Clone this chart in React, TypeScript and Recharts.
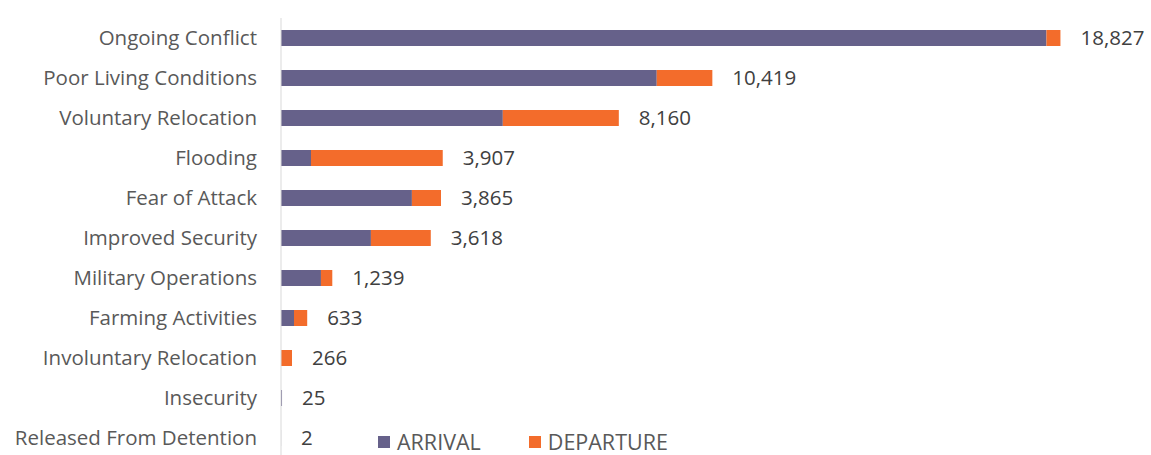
import { Bar, BarChart, LabelList, XAxis, YAxis } from "recharts";

const categories = [
  "Ongoing Conflict",
  "Poor Living Conditions",
  "Voluntary Relocation",
  "Flooding",
  "Fear of Attack",
  "Improved Security",
  "Military Operations",
  "Farming Activities",
  "Involuntary Relocation",
  "Insecurity",
  "Released From Detention",
];
const arrival = [18489, 9076, 5358, 724, 3162, 2172, 965, 314, 0, 25, 2];
const departure = [338, 1343, 2802, 3183, 703, 1446, 274, 319, 266, 0, 0];

const data = categories.map((name, i) => ({
  name,
  arrival: arrival[i],
  departure: departure[i],
  total: arrival[i] + departure[i],
}));

const ARRIVAL = "#66618A";
const DEPARTURE = "#F36C2B";
const FONT = "'Open Sans', sans-serif";

const LegendBox = () => (
  <div
    style={{
      position: "absolute",
      left: 378,
      top: 429,
      display: "flex",
      whiteSpace: "nowrap",
      fontFamily: FONT,
      fontSize: 21.5,
      lineHeight: "26px",
      color: "#595959",
    }}
  >
    <span style={{ display: "flex", alignItems: "center", marginRight: 48 }}>
      <span style={{ width: 12, height: 12, background: ARRIVAL, marginRight: 7 }} />
      ARRIVAL
    </span>
    <span style={{ display: "flex", alignItems: "center" }}>
      <span style={{ width: 12, height: 12, background: DEPARTURE, marginRight: 7 }} />
      DEPARTURE
    </span>
  </div>
);

const App = () => {
  return (
    <div style={{ position: "absolute", left: 0, top: 0, width: 1151, height: 455, overflow: "hidden" }}>
      <BarChart
        width={1151}
        height={460}
        data={data}
        layout="vertical"
        barCategoryGap={12}
        margin={{ top: 18, right: 42, bottom: 2, left: 0 }}
      >
        <XAxis type="number" domain={[0, 20000]} hide />
        <YAxis
          yAxisId="main"
          type="category"
          dataKey="name"
          width={281}
          tickLine={false}
          tickSize={22}
          axisLine={{ stroke: "#D9D9D9" }}
          tick={{ fill: "#595959", fontSize: 20.5, fontFamily: FONT }}
          interval={0}
        />
        <YAxis yAxisId="labels" type="category" dataKey="name" hide width={0} orientation="right" />
        <Bar yAxisId="main" dataKey="arrival" stackId="a" fill={ARRIVAL} isAnimationActive={false} />
        <Bar yAxisId="main" dataKey="departure" stackId="a" fill={DEPARTURE} isAnimationActive={false} />
        <Bar yAxisId="labels" dataKey="total" fill="transparent" isAnimationActive={false}>
          <LabelList
            dataKey="total"
            position="right"
            offset={20}
            formatter={(v: number) => v.toLocaleString("en-US")}
            style={{ fill: "#404040", fontSize: 20.5, fontFamily: FONT }}
          />
        </Bar>
      </BarChart>
      <LegendBox />
    </div>
  );
};

export default App;
